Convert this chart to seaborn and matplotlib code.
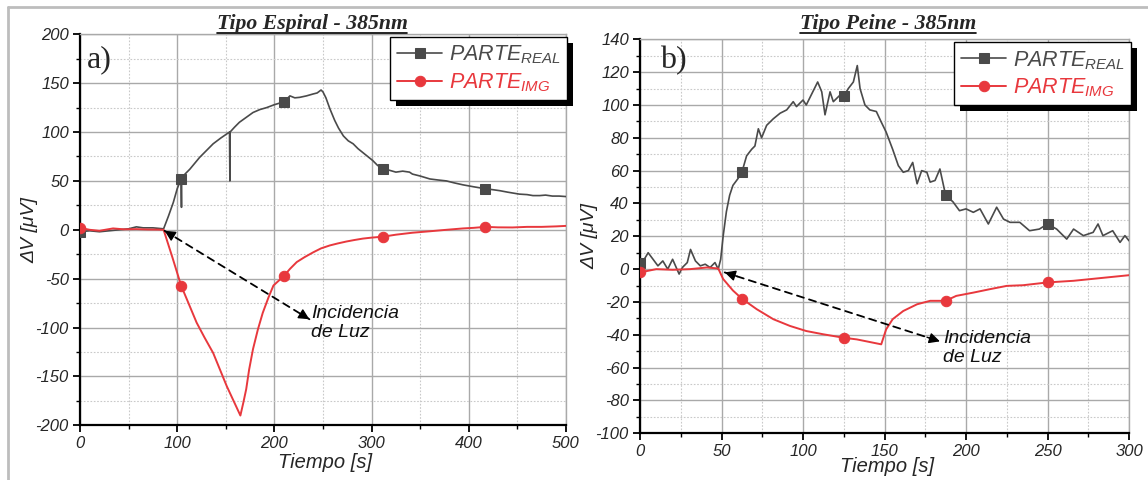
import numpy as np
import matplotlib
matplotlib.use("Agg")
import matplotlib.pyplot as plt
import seaborn as sns
from matplotlib.lines import Line2D
from matplotlib.patches import Rectangle
from matplotlib.ticker import MultipleLocator
from matplotlib.transforms import IdentityTransform

# ---------------- data ----------------
# Panel a) Tipo Espiral
real_a_t = [0, 10, 20, 30, 40, 50, 58, 65, 75, 86,
            91, 96, 100, 104, 104.2, 104.4, 104.6, 108, 113, 118,
            123, 130, 137, 145, 153.8, 154, 154.2, 154.4, 159, 164,
            171, 178, 185, 192, 200, 210, 216, 221, 226, 233,
            240, 244, 248, 250, 253, 257, 262, 266, 271, 276,
            281, 286, 291, 296, 301, 306, 312, 318, 325, 332,
            339, 342, 350, 360, 368, 377, 385, 394, 405, 417,
            425, 432, 440, 452, 460, 466, 473, 479, 486, 493,
            500]
real_a_v = [-2, -1, -2, -1, 0, 1, 3, 2, 2, 1,
            14, 28, 42, 52, 36, 23, 52, 57, 62, 68,
            74, 81, 88, 94, 100, 75, 50, 100, 105, 110,
            115, 120, 123, 125, 128, 131, 137, 135, 135.5, 137,
            139, 140, 143, 141, 135, 124, 112, 104, 96, 91,
            88, 83, 79, 75, 71, 66, 62, 61, 59, 60,
            59, 57, 55, 52, 51, 50, 48, 46, 44, 42,
            41, 40, 38.5, 36.5, 36, 35, 35, 35.5, 34.5, 34.5,
            34]
img_a_t = [0, 10, 20, 34, 45, 58, 70, 80, 86, 95,
           104, 112, 120, 128, 137, 144, 151, 158, 165, 168,
           171, 174, 178, 183, 188, 194, 199, 210, 216, 223,
           231, 240, 248, 257, 265, 274, 282, 291, 300, 312,
           325, 342, 360, 377, 394, 405, 417, 430, 445, 460,
           475, 490, 500]
img_a_v = [2, 0, -1, 1.4, 0.5, 0.7, 0.3, 0.2, 0, -28,
           -57, -76, -95, -110, -126, -143, -160, -175, -190, -177,
           -163, -143, -122, -102, -85, -69, -57, -47, -40, -33,
           -28, -23, -19, -16, -14, -12, -10.5, -9, -8, -7,
           -5, -3, -1.5, 0, 1.4, 2, 3, 2.5, 2.4, 3,
           3, 3.5, 4]
marks_a = [0, 104, 210, 312, 417]

# Panel b) Tipo Peine
real_b_t = [0, 2, 5, 8, 11, 14, 17, 20, 24, 26,
            29, 31, 34, 37, 40, 43, 46, 48, 49.5, 51,
            53, 55, 57, 60, 62.5, 65.4, 68.5, 70.5, 72.6, 74.6,
            77.7, 81.8, 86, 90, 94, 96, 100, 102, 105, 109,
            111.5, 113.5, 116.6, 118.6, 122.7, 125, 127.8, 130.9, 133.3, 135,
            138, 141, 145, 148, 151, 155, 158.5, 161.5, 164.6, 167.3,
            170, 172.8, 176, 178, 181, 184, 187.5, 192, 196, 200,
            204.5, 208.6, 213.7, 218.8, 223, 227, 233, 239, 245, 250,
            255.6, 261.8, 266, 272, 278, 281, 284, 290, 294.5, 297.5,
            300]
real_b_v = [4, 5, 10, 6, 2, 5, 0, 6, -3, 1,
            4, 12, 5, 2, 3, 1, 4, 0, 6, 20,
            35, 45, 51, 55, 59, 69, 73, 75, 85.5, 80,
            87.6, 91.6, 95, 97, 102, 99, 103, 100, 106, 114,
            108, 94, 108, 102, 106, 105.5, 110, 114, 124, 110,
            100, 97, 96, 89.6, 83.5, 73, 63, 59, 60, 65,
            52, 60, 59, 53, 54, 61, 45, 41, 35.6, 36.7,
            34.6, 36.7, 27.5, 37.7, 30.5, 28.5, 28.5, 23.4, 24.4, 27.5,
            24.4, 18.3, 24.4, 20.4, 22.4, 27.5, 20.4, 23.4, 16.3, 20.4,
            17.3]
img_b_t = [0, 10, 20, 30.7, 41, 48, 51, 57, 62.5, 71.6,
           81.8, 92, 102, 112.5, 125, 133, 143, 148, 151, 155,
           161.5, 170, 178, 187.5, 194, 204.5, 214.7, 225, 235, 250,
           266, 286, 300]
img_b_v = [-2, 0, -0.4, 0, 1, 0.4, -6, -13, -18, -24.4,
           -30.5, -34.6, -37.7, -39.7, -41.8, -42.8, -44.8, -45.8, -36.7, -30.5,
           -25.5, -21.4, -19.3, -19.3, -16.3, -14.3, -12.2, -10.2, -9.8, -8.1,
           -7.1, -5.1, -3.7]
marks_b = [0, 62.5, 125, 187.5, 250]

titles = ["Tipo Espiral - 385nm", "Tipo Peine - 385nm"]
panel_tags = ["a)", "b)"]
series_labels = [r"$PARTE_{REAL}$", r"$PARTE_{IMG}$"]
xlabel = "Tiempo [s]"
ylabel = "ΔV [μV]"
annot_text = "Incidencia\nde Luz"

# ---------------- style ----------------
sns.set_style("white")
plt.rcParams["font.family"] = ["Liberation Sans", "DejaVu Sans"]
plt.rcParams["mathtext.fontset"] = "custom"
plt.rcParams["mathtext.it"] = "Liberation Sans:italic"
plt.rcParams["mathtext.rm"] = "Liberation Sans"
plt.rcParams["mathtext.default"] = "it"
plt.rcParams["axes.unicode_minus"] = False

GRAY = "#4a4a4a"
RED = "#e8383d"
GRID = "#a9a9a9"

W, H = 1148, 480
fig = plt.figure(figsize=(W / 100, H / 100), dpi=100)
fig.patch.set_facecolor("white")

ax1 = fig.add_axes([80 / W, 1 - 425.3 / H, 486 / W, 391 / H])
ax2 = fig.add_axes([640 / W, 1 - 433.3 / H, 489 / W, 394 / H])


def marker_idx(t, marks):
    t = np.asarray(t, dtype=float)
    return [int(np.argmin(np.abs(t - m))) for m in marks]


def setup(ax, real_t, real_v, img_t, img_v, marks, xlim, ylim, xmaj, xmin, ymaj, ymin,
          arrow_start, arrow_end, text_xy, tag_xy, leg_anchor, xlab_y):
    sns.lineplot(x=real_t, y=real_v, ax=ax, color=GRAY, lw=1.2, sort=False, estimator=None,
                 marker="s", markersize=7, markevery=marker_idx(real_t, marks),
                 markeredgecolor=GRAY, label=series_labels[0], zorder=3)
    sns.lineplot(x=img_t, y=img_v, ax=ax, color=RED, lw=1.4, sort=False, estimator=None,
                 marker="o", markersize=7.5, markevery=marker_idx(img_t, marks),
                 markeredgecolor=RED, label=series_labels[1], zorder=3)
    ax.set_xlim(*xlim)
    ax.set_ylim(*ylim)
    ax.xaxis.set_major_locator(MultipleLocator(xmaj))
    ax.xaxis.set_minor_locator(MultipleLocator(xmin))
    ax.yaxis.set_major_locator(MultipleLocator(ymaj))
    ax.yaxis.set_minor_locator(MultipleLocator(ymin))
    ax.grid(which="major", color=GRID, lw=1.0, ls="-")
    ax.grid(which="minor", color="#c9c9c9", lw=0.8, ls=(0, (1.5, 1.5)))
    ax.set_axisbelow(True)
    for s in ["left", "bottom"]:
        ax.spines[s].set_color("black")
        ax.spines[s].set_linewidth(1.6)
    for s in ["top", "right"]:
        ax.spines[s].set_color(GRID)
        ax.spines[s].set_linewidth(1.0)
    ax.tick_params(which="major", direction="out", length=5, width=1.3, color="black",
                   labelsize=12, pad=3, top=False, right=False, bottom=True, left=True)
    ax.tick_params(which="minor", direction="out", length=3, width=1.0, color="black",
                   top=False, right=False, bottom=True, left=True)
    for lbl in ax.get_xticklabels() + ax.get_yticklabels():
        lbl.set_fontstyle("italic")
    ax.set_xlabel(xlabel, fontsize=14.5, fontstyle="italic")
    ax.set_ylabel(ylabel, fontsize=14, fontstyle="italic")
    ax.xaxis.set_label_coords(0.505, xlab_y)
    ax.yaxis.set_label_coords(-0.086, 0.5)

    # dashed double arrow
    ax.annotate("", xy=arrow_end, xytext=arrow_start,
                arrowprops=dict(arrowstyle="-", ls=(0, (4, 3)), color="black", lw=1.3,
                                shrinkA=0, shrinkB=0), zorder=4)
    sx, sy = arrow_start
    ex, ey = arrow_end
    ax.annotate("", xy=arrow_end, xytext=(ex - 0.06 * (ex - sx), ey - 0.06 * (ey - sy)),
                arrowprops=dict(arrowstyle="-|>", color="black", lw=1.0, mutation_scale=16,
                                shrinkA=0, shrinkB=0), zorder=4)
    ax.annotate("", xy=arrow_start, xytext=(sx + 0.06 * (ex - sx), sy + 0.06 * (ey - sy)),
                arrowprops=dict(arrowstyle="-|>", color="black", lw=1.0, mutation_scale=16,
                                shrinkA=0, shrinkB=0), zorder=4)
    ax.text(text_xy[0], text_xy[1], annot_text, fontsize=14, fontstyle="italic",
            ha="left", va="center", linespacing=1.15, color="#111111", zorder=5)
    ax.text(tag_xy[0], tag_xy[1], tag_xy[2], transform=ax.transAxes, fontsize=23,
            family=["Liberation Serif", "DejaVu Serif"], ha="left", va="center", zorder=5)

    leg = ax.legend(loc="upper right", bbox_to_anchor=leg_anchor, fontsize=15.5,
                    frameon=True, fancybox=False, edgecolor="black", framealpha=1,
                    handlelength=2.1, handletextpad=0.3, borderpad=0.3,
                    labelspacing=0.22, borderaxespad=0)
    leg.get_frame().set_linewidth(1.0)
    leg.set_zorder(10)
    for txt, c in zip(leg.get_texts(), [GRAY, RED]):
        txt.set_color(c)
    return leg


leg1 = setup(ax1, real_a_t, real_a_v, img_a_t, img_a_v, marks_a, (0, 500), (-200, 200),
             100, 50, 50, 25, (87, -1), (236, -91.5), (238, -95),
             (0.014, 0.934, panel_tags[0]), (1.002, 0.992), -0.072)
leg2 = setup(ax2, real_b_t, real_b_v, img_b_t, img_b_v, marks_b, (0, 300), (-100, 140),
             50, 25, 20, 10, (52, -2), (184, -44), (186, -48),
             (0.04, 0.947, panel_tags[1]), (1.004, 0.992), -0.061)

# titles (bold italic serif, underlined)
title_texts = []
for cx, cy, ttl in [(312, 24, titles[0]), (888, 24, titles[1])]:
    t = fig.text(cx / W, 1 - cy / H, ttl, ha="center", va="center", fontsize=15.7,
                 fontweight="bold", fontstyle="italic",
                 family=["Liberation Serif", "DejaVu Serif"])
    title_texts.append(t)

# outer frame lines (top & left)
fig.add_artist(Line2D([8 / W, 1.0], [1 - 7 / H, 1 - 7 / H], color="#bdbdbd", lw=2))
fig.add_artist(Line2D([8 / W, 8 / W], [0, 1 - 7 / H], color="#bdbdbd", lw=2))

fig.canvas.draw()
renderer = fig.canvas.get_renderer()
for t in title_texts:
    bb = t.get_window_extent(renderer)
    yline = bb.y0 + 1
    fig.add_artist(Line2D([bb.x0 / W, bb.x1 / W], [yline / H, yline / H], color="black", lw=1.2))

# legend shadows (drawn inside the axes just below the legend)
for ax, leg in [(ax1, leg1), (ax2, leg2)]:
    bb = leg.get_window_extent(renderer)
    sh = Rectangle((bb.x0 + 6, bb.y0 - 6), bb.width, bb.height,
                   facecolor="black", edgecolor="none", clip_on=False)
    sh.set_transform(IdentityTransform())
    sh.set_zorder(9)
    ax.add_artist(sh)

fig.savefig("out.png", dpi=100)
